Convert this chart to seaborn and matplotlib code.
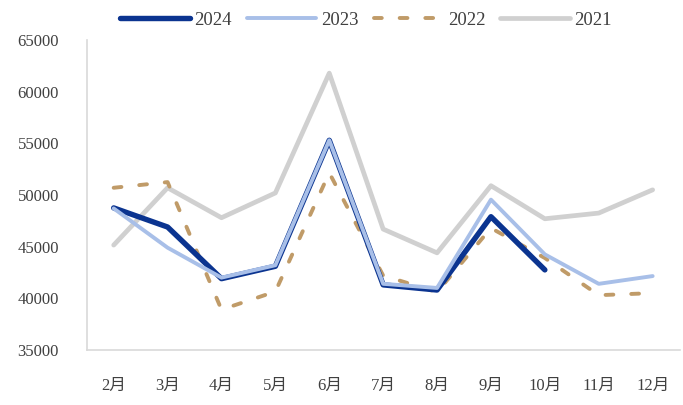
import matplotlib
matplotlib.use("Agg")
import matplotlib.pyplot as plt
import seaborn as sns
import pandas as pd

months = ["2月", "3月", "4月", "5月", "6月", "7月", "8月", "9月", "10月", "11月", "12月"]
v2024 = [48750, 46900, 41900, 43100, 55300, 41300, 40800, 47900, 42750]
v2023 = [48700, 44900, 42000, 43200, 55300, 41400, 41000, 49550, 44250, 41400, 42150]
v2022 = [50700, 51250, 38900, 40650, 52150, 42200, 40600, 46800, 43900, 40300, 40500]
v2021 = [45150, 50700, 47800, 50200, 61800, 46700, 44400, 50900, 47700, 48250, 50500]

series = [
    ("2024", v2024, "#0b3490", 3.9, "-", 3),
    ("2023", v2023, "#a8bfe8", 2.8, "-", 4),
    ("2022", v2022, "#c09b68", 2.8, (0, (2.0, 4.6)), 2),
    ("2021", v2021, "#d0d0d0", 3.4, "-", 1),
]

sns.set_style("white")
plt.rcParams["font.family"] = ["Liberation Serif", "Noto Sans CJK SC"]

fig = plt.figure(figsize=(6.83, 4.05), dpi=100)
ax = fig.add_axes([0.127, 0.136, 0.868, 0.765])

for name, vals, color, lw, ls, z in series:
    df = pd.DataFrame({"month": months[:len(vals)], "value": vals})
    sns.lineplot(data=df, x="month", y="value", ax=ax, color=color, linewidth=lw,
                 linestyle=ls, label=name, zorder=z, sort=False,
                 solid_capstyle="round", dash_capstyle="round")

ax.set_xlim(-0.5, len(months) - 0.5)
ax.set_ylim(35000, 65000)
ax.set_yticks(range(35000, 65001, 5000))
ax.set_xlabel("")
ax.set_ylabel("")
for s in ["top", "right"]:
    ax.spines[s].set_visible(False)
for s in ["left", "bottom"]:
    ax.spines[s].set_color("#d9d9d9")
    ax.spines[s].set_linewidth(1.2)
ax.tick_params(axis="both", length=0, labelsize=12, colors="#404040")
ax.tick_params(axis="x", pad=20)
ax.tick_params(axis="y", pad=20)

handles, labels = ax.get_legend_handles_labels()
order = ["2024", "2023", "2022", "2021"]
hmap = dict(zip(labels, handles))
ax.legend([hmap[k] for k in order], order, loc="center", bbox_to_anchor=(0.536, 0.95),
          bbox_transform=fig.transFigure, ncol=4, frameon=False, handlelength=3.7,
          handletextpad=0.25, columnspacing=0.8, fontsize=13.5, labelcolor="#404040")

fig.savefig("out.png", dpi=100)
